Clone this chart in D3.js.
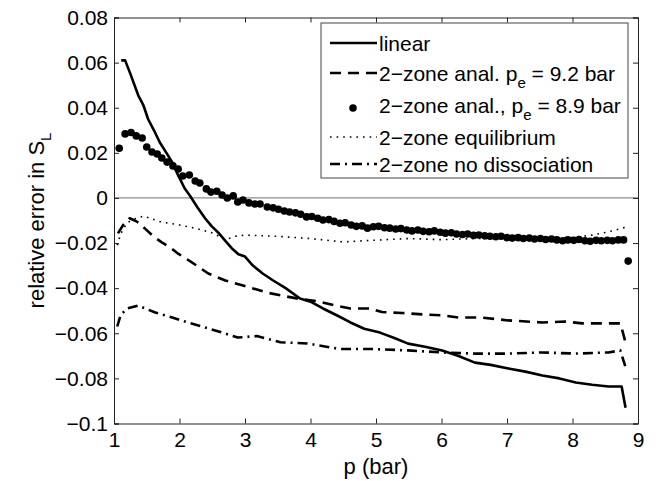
<!DOCTYPE html>
<html>
<head>
<meta charset="utf-8">
<script src="https://cdn.jsdelivr.net/npm/d3@7"></script>
<style>
  body { margin: 0; background: #fff; }
  text { font-family: "Liberation Sans", Arial, Helvetica, sans-serif; fill: #000; }
</style>
</head>
<body>
<svg id="chart" width="660" height="481"></svg>
<script>
// axis ticks
const xTicks = [1, 2, 3, 4, 5, 6, 7, 8, 9];
const yTicks = [0.08, 0.06, 0.04, 0.02, 0, -0.02, -0.04, -0.06, -0.08, -0.1];
const yTickLabels = ['0.08', '0.06', '0.04', '0.02', '0', '\u22120.02', '\u22120.04', '\u22120.06', '\u22120.08', '\u22120.1'];

// linear
const linearP = [1.11, 1.17, 1.25, 1.37, 1.45, 1.52, 1.61, 1.70, 1.80, 1.89, 1.98, 2.08, 2.16, 2.27, 2.39, 2.49, 2.59, 2.70, 2.80, 2.90, 3.00, 3.12, 3.27, 3.43, 3.62, 3.84, 4.00, 4.19, 4.40, 4.61, 4.82, 5.06, 5.27, 5.49, 5.75, 6.01, 6.25, 6.51, 6.75, 7.02, 7.28, 7.54, 7.80, 8.05, 8.30, 8.55, 8.75, 8.81];
const linearV = [0.061, 0.061, 0.055, 0.0455, 0.041, 0.035, 0.030, 0.0246, 0.020, 0.0157, 0.010, 0.0042, 0.001, -0.004, -0.009, -0.0125, -0.0153, -0.019, -0.0224, -0.025, -0.026, -0.030, -0.0335, -0.0366, -0.040, -0.0446, -0.046, -0.049, -0.052, -0.0552, -0.058, -0.0597, -0.062, -0.0646, -0.066, -0.0676, -0.070, -0.073, -0.074, -0.0756, -0.077, -0.0787, -0.080, -0.0818, -0.0828, -0.0836, -0.0836, -0.093];

// 2-zone anal. pe = 9.2 bar
const dashP = [1.06, 1.14, 1.24, 1.35, 1.47, 1.60, 1.73, 1.86, 1.98, 2.19, 2.44, 2.70, 2.97, 3.34, 3.58, 3.84, 4.10, 4.35, 4.61, 4.91, 5.09, 5.40, 5.75, 6.00, 6.26, 6.60, 7.02, 7.54, 7.89, 8.15, 8.45, 8.73, 8.81];
const dashV = [-0.0157, -0.012, -0.009, -0.0105, -0.0135, -0.017, -0.0197, -0.022, -0.0247, -0.0286, -0.0335, -0.0366, -0.0388, -0.042, -0.0434, -0.0448, -0.0458, -0.0475, -0.049, -0.049, -0.0506, -0.051, -0.0517, -0.052, -0.053, -0.053, -0.0543, -0.0552, -0.0548, -0.0556, -0.0556, -0.0556, -0.064];

// 2-zone anal., pe = 8.9 bar (markers)
const dotP = [1.08, 1.17, 1.26, 1.34, 1.43, 1.50, 1.58, 1.66, 1.73, 1.81, 1.90, 1.98, 2.05, 2.15, 2.24, 2.31, 2.41, 2.48, 2.57, 2.65, 2.73, 2.82, 2.89, 2.97, 3.06, 3.15, 3.23, 3.34, 3.43, 3.51, 3.60, 3.68, 3.77, 3.85, 3.94, 4.02, 4.11, 4.19, 4.28, 4.36, 4.45, 4.53, 4.62, 4.70, 4.79, 4.87, 4.96, 5.04, 5.13, 5.21, 5.30, 5.38, 5.47, 5.55, 5.64, 5.72, 5.81, 5.89, 5.98, 6.06, 6.15, 6.23, 6.32, 6.40, 6.49, 6.57, 6.66, 6.74, 6.83, 6.91, 7.00, 7.08, 7.17, 7.25, 7.34, 7.42, 7.51, 7.59, 7.68, 7.76, 7.85, 7.93, 8.02, 8.10, 8.19, 8.27, 8.36, 8.44, 8.53, 8.61, 8.70, 8.78, 8.85];
const dotV = [0.022, 0.0284, 0.029, 0.0275, 0.0266, 0.0226, 0.0204, 0.0195, 0.0177, 0.0159, 0.0142, 0.0128, 0.0097, 0.0102, 0.0075, 0.0066, 0.004, 0.0026, 0.003, 0.0013, 0, 0.0009, -0.0018, -0.0009, -0.0022, -0.0027, -0.0027, -0.004, -0.0044, -0.005, -0.0058, -0.0062, -0.0066, -0.0072, -0.0084, -0.0082, -0.009, -0.0098, -0.0096, -0.0104, -0.0112, -0.011, -0.012, -0.0126, -0.0124, -0.0134, -0.0128, -0.0126, -0.0132, -0.0134, -0.0138, -0.0136, -0.0142, -0.0146, -0.0142, -0.0148, -0.015, -0.0146, -0.0152, -0.0156, -0.0154, -0.016, -0.0162, -0.016, -0.0166, -0.0164, -0.0168, -0.017, -0.0172, -0.017, -0.0176, -0.0178, -0.0176, -0.018, -0.0178, -0.0182, -0.018, -0.0184, -0.0182, -0.0186, -0.019, -0.0186, -0.0188, -0.0184, -0.019, -0.0192, -0.0188, -0.019, -0.0188, -0.019, -0.0186, -0.0186, -0.028];

// 2-zone equilibrium
const eqP = [1.05, 1.10, 1.20, 1.30, 1.45, 1.70, 2.00, 2.25, 2.50, 2.70, 2.85, 3.00, 3.50, 4.00, 4.50, 5.00, 5.50, 6.00, 6.50, 7.00, 7.50, 8.00, 8.30, 8.55, 8.75, 8.80];
const eqV = [-0.021, -0.016, -0.011, -0.0095, -0.008, -0.0105, -0.012, -0.0135, -0.0155, -0.0185, -0.017, -0.0165, -0.017, -0.018, -0.0195, -0.0187, -0.018, -0.0185, -0.018, -0.018, -0.0178, -0.0175, -0.0165, -0.015, -0.0135, -0.013];

// 2-zone no dissociation
const noDissP = [1.05, 1.10, 1.20, 1.37, 1.63, 1.89, 2.13, 2.39, 2.65, 2.89, 3.18, 3.54, 3.95, 4.45, 4.96, 5.49, 6.01, 6.51, 7.02, 7.54, 8.05, 8.55, 8.73, 8.81];
const noDissV = [-0.057, -0.052, -0.049, -0.0477, -0.0508, -0.053, -0.0552, -0.0574, -0.0597, -0.0619, -0.0612, -0.064, -0.0645, -0.067, -0.067, -0.0676, -0.0685, -0.069, -0.069, -0.0685, -0.069, -0.0685, -0.0676, -0.075];

const legendLabels = ['linear', '2\u2212zone anal. p', '2\u2212zone anal., p', '2\u2212zone equilibrium', '2\u2212zone no dissociation'];
const legendTails = ['', ' = 9.2 bar', ' = 8.9 bar', '', ''];

const svg = d3.select('#chart');
const plotLeft = 114, plotRight = 638, plotTop = 17.5, plotBottom = 423.5;

const x = d3.scaleLinear().domain([1, 9]).range([plotLeft, plotRight]);
const y = d3.scaleLinear().domain([-0.1, 0.08]).range([plotBottom, plotTop]);

const styles = {
  linear: { width: 2.6, dash: null },
  dash: { width: 2.6, dash: '11,7' },
  eq: { width: 1.6, dash: '1.6,5' },
  noDiss: { width: 2.6, dash: '10,5,2,5' }
};

// zero line
svg.append('line')
  .attr('x1', x(1)).attr('x2', x(9))
  .attr('y1', y(0)).attr('y2', y(0))
  .attr('stroke', '#8c8c8c').attr('stroke-width', 1.2);

function drawLine(ps, vs, st) {
  const pts = ps.map((p, i) => [p, vs[i]]);
  const line = d3.line().x(d => x(d[0])).y(d => y(d[1]));
  svg.append('path')
    .attr('d', line(pts))
    .attr('fill', 'none')
    .attr('stroke', '#000')
    .attr('stroke-width', st.width)
    .attr('stroke-linejoin', 'round')
    .attr('stroke-dasharray', st.dash);
}

drawLine(eqP, eqV, styles.eq);
drawLine(noDissP, noDissV, styles.noDiss);
drawLine(dashP, dashV, styles.dash);
drawLine(linearP, linearV, styles.linear);

svg.append('g')
  .selectAll('circle')
  .data(dotP.map((p, i) => [p, dotV[i]]))
  .join('circle')
  .attr('cx', d => x(d[0]))
  .attr('cy', d => y(d[1]))
  .attr('r', 3.8)
  .attr('fill', '#000');

// axes with inward ticks on all four sides
const fontSize = '21px';
const gx = svg.append('g').attr('transform', `translate(0,${plotBottom})`)
  .call(d3.axisBottom(x).tickValues(xTicks).tickSize(-5).tickPadding(9).tickFormat(d3.format('d')));
const gy = svg.append('g').attr('transform', `translate(${plotLeft},0)`)
  .call(d3.axisLeft(y).tickValues(yTicks).tickSize(-5).tickPadding(6).tickFormat((d, i) => yTickLabels[i]));
const gt = svg.append('g').attr('transform', `translate(0,${plotTop})`)
  .call(d3.axisTop(x).tickValues(xTicks).tickSize(-5).tickFormat(''));
const gr = svg.append('g').attr('transform', `translate(${plotRight},0)`)
  .call(d3.axisRight(y).tickValues(yTicks).tickSize(-5).tickFormat(''));

[gx, gy, gt, gr].forEach(g => {
  g.select('.domain').attr('stroke', '#222').attr('stroke-width', 1);
  g.selectAll('.tick line').attr('stroke', '#222').attr('stroke-width', 1);
  g.selectAll('.tick text').attr('font-size', fontSize).attr('font-family', null).attr('fill', '#000');
});

// axis titles
svg.append('text')
  .attr('x', (plotLeft + plotRight) / 2).attr('y', 474)
  .attr('text-anchor', 'middle').attr('font-size', '22px')
  .text('p (bar)');

const ylab = svg.append('text')
  .attr('transform', `translate(44,${(plotTop + plotBottom) / 2}) rotate(-90)`)
  .attr('text-anchor', 'middle').attr('font-size', '22px');
ylab.append('tspan').text('relative error in S');
ylab.append('tspan').attr('dy', 7).attr('font-size', '15px').text('L');

// legend
const lg = svg.append('g');
lg.append('rect')
  .attr('x', 321).attr('y', 23).attr('width', 307).attr('height', 155)
  .attr('fill', '#fff').attr('stroke', '#444').attr('stroke-width', 1);

const rowY = [43, 73, 105, 137, 164];
const rowStyle = [styles.linear, styles.dash, null, styles.eq, styles.noDiss];
rowY.forEach((ry, i) => {
  if (rowStyle[i]) {
    lg.append('line')
      .attr('x1', 330).attr('x2', 377).attr('y1', ry).attr('y2', ry)
      .attr('stroke', '#000').attr('stroke-width', rowStyle[i].width)
      .attr('stroke-dasharray', rowStyle[i].dash);
  } else {
    lg.append('circle').attr('cx', 353).attr('cy', ry + 3).attr('r', 3.8).attr('fill', '#000');
  }
  const t = lg.append('text')
    .attr('x', 379).attr('y', ry + 7.5).attr('font-size', fontSize);
  t.append('tspan').text(legendLabels[i]);
  if (legendTails[i]) {
    t.append('tspan').attr('dy', 7).attr('font-size', '15px').text('e');
    t.append('tspan').attr('dy', -7).text(legendTails[i]);
  }
});
</script>
</body>
</html>
